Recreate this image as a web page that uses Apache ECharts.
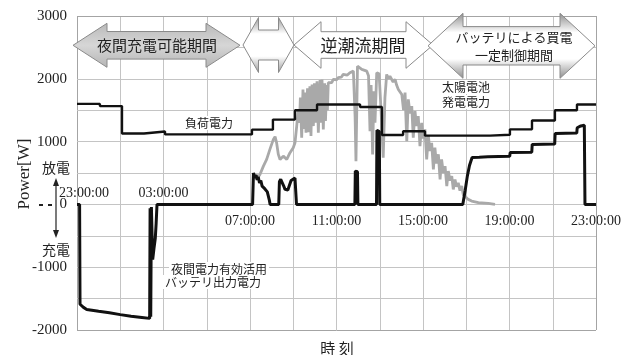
<!DOCTYPE html>
<html>
<head>
<meta charset="utf-8">
<script src="https://cdn.jsdelivr.net/npm/echarts@6/dist/echarts.min.js"></script>
<style>
  html, body { margin: 0; padding: 0; background: #fff; }
  #chart { width: 633px; height: 355px; }
</style>
</head>
<body>
<div id="chart"></div>
<script>
// x values are hours elapsed since 23:00 (the axis runs 23:00 -> 23:00 next day)
const clockLabels = ['23:00:00', '03:00:00', '07:00:00', '11:00:00', '15:00:00', '19:00:00', '23:00:00'];
const powerLabels = [-2000, -1000, 0, 1000, 2000, 3000];

// 負荷電力 : household load, drawn as a step line [hour, W]
const loadPoints = [
  [0, 1600], [1.06, 1565], [2.08, 1130], [3.10, 1160], [4.07, 1115], [8.09, 1190],
  [9.06, 1350], [10.08, 1500], [11.10, 1590], [13.09, 1550], [14.10, 1105], [15.08, 1165],
  [16.09, 1095], [19.10, 1110], [20.02, 1195], [21.04, 1335], [22.10, 1500], [23.12, 1590], [24, 1590]
];

// 太陽電池発電電力 : PV output [hour, W]
const solarPoints = [
  [8.39, 440], [8.46, 477], [8.62, 610], [8.77, 716], [8.92, 876], [9.08, 1035], [9.16, 1078],
  [9.23, 982], [9.31, 796], [9.39, 716], [9.54, 769], [9.70, 716], [9.85, 823], [10.00, 903],
  [10.08, 982], [10.16, 1247], [10.23, 1512], [10.29, 1300], [10.33, 1700], [10.39, 1062],
  [10.45, 1830], [10.50, 1200], [10.54, 1780], [10.59, 1141], [10.66, 1850], [10.70, 1150],
  [10.77, 1880], [10.82, 1090], [10.87, 1910], [10.93, 1247], [10.98, 1930], [11.05, 1300],
  [11.10, 1960], [11.16, 1141], [11.24, 1980], [11.28, 1300], [11.33, 1990], [11.39, 1194],
  [11.45, 1930], [11.49, 1330], [11.55, 1900], [11.58, 1500], [11.62, 1937], [11.70, 1960],
  [11.78, 1940], [11.85, 1990], [11.92, 2000], [12.00, 1985], [12.08, 2017], [12.15, 2040],
  [12.22, 2025], [12.31, 2070], [12.40, 2080], [12.50, 2060], [12.62, 2097], [12.78, 2122],
  [12.86, 1400], [12.90, 689], [12.97, 2200], [13.17, 2149], [13.40, 2122], [13.48, 2050],
  [13.55, 1167], [13.60, 1900], [13.67, 796], [13.73, 1800], [13.78, 1300], [13.86, 2097],
  [13.97, 2080], [14.06, 1500], [14.16, 743], [14.24, 1700], [14.32, 2070], [14.40, 2000],
  [14.47, 2040], [14.55, 2017], [14.62, 1950], [14.71, 1990], [14.78, 1900], [14.86, 1830],
  [14.93, 1800], [15.02, 1751], [15.10, 1500], [15.17, 1780], [15.25, 1008], [15.32, 1672],
  [15.40, 1450], [15.48, 1565], [15.55, 1062], [15.63, 1486], [15.70, 1250], [15.78, 1406],
  [15.86, 928], [15.94, 1300], [16.01, 1050], [16.09, 1194], [16.17, 716], [16.25, 1088],
  [16.32, 850], [16.40, 982], [16.48, 557], [16.55, 903], [16.62, 650], [16.71, 796],
  [16.79, 398], [16.86, 716], [16.94, 500], [17.02, 610], [17.10, 291], [17.17, 530],
  [17.25, 380], [17.33, 451], [17.40, 239], [17.48, 398], [17.55, 280], [17.63, 345],
  [17.71, 220], [17.79, 291], [17.86, 159], [17.94, 186], [18.09, 80], [18.25, 53],
  [18.56, 27], [19.02, 16], [19.33, 0]
];

// 夜間電力有効活用バッテリ出力電力 : battery output, + discharge / - charge [hour, W]
const batteryPoints = [
  [0, 0], [0.12, 0], [0.14, -1590], [0.30, -1640], [0.45, -1672], [1.0, -1700], [1.5, -1725],
  [2.0, -1755], [2.5, -1780], [3.0, -1800], [3.36, -1815], [3.38, -60], [3.41, -1790],
  [3.44, -40], [3.50, -880], [3.56, -700], [3.62, -540], [3.66, -300], [3.70, 0],
  [8.12, 0], [8.16, 500], [8.20, 530], [8.24, 420], [8.28, 470], [8.33, 390], [8.38, 440],
  [8.44, 340], [8.50, 380], [8.56, 290], [8.62, 320], [8.68, 250], [8.74, 270], [8.80, 200],
  [8.86, 210], [8.90, 60], [8.93, 0], [9.33, 0], [9.36, 360], [9.42, 400], [9.47, 390],
  [9.55, 300], [9.62, 240], [9.68, 260], [9.75, 230], [9.82, 300], [9.90, 380], [9.98, 400],
  [10.08, 420], [10.13, 400], [10.15, 0], [12.85, 0], [12.87, 530], [12.97, 520], [12.99, 0],
  [13.85, 0], [13.87, 1180], [13.98, 1160], [14.0, 0], [17.84, 0], [17.95, 220], [18.05, 450],
  [18.15, 620], [18.27, 748], [18.6, 752], [19.0, 758], [19.5, 762], [20.01, 765], [20.03, 825],
  [21.03, 830], [21.05, 955], [22.09, 960], [22.11, 1130], [23.11, 1135], [23.13, 1220],
  [23.30, 1250], [23.38, 1275], [23.46, 1260], [23.49, 0], [24, 0]
];

const xMin = 0, xMax = 24, xStep = 2;
const yMin = -2000, yMax = 3000, yStep = 500;
const serif = '"Liberation Serif", "DejaVu Serif", serif';
const jp = '"Noto Sans CJK JP", sans-serif';
const gridColor = '#c4c4c4';
const frameColor = '#a4a4a4';

// plot box (pixels); the time axis is shifted up onto the 0 W line
const box = { left: 77, right: 37, top: 16, bottom: 25 };
const plotH = 355 - box.top - box.bottom;
const zeroShift = -plotH * (0 - yMin) / (yMax - yMin);

// grid rules and frame, placed in data units through the axes
const rules = [];
for (let h = xMin; h <= xMax; h += xStep) {
  const edge = (h === xMin || h === xMax);
  rules.push({ xAxis: h, lineStyle: { color: edge ? frameColor : gridColor, width: 1, type: 'solid' } });
}
for (let w = yMin; w <= yMax; w += yStep) {
  const edge = (w === yMin || w === yMax);
  rules.push({ yAxis: w, lineStyle: { color: edge ? frameColor : gridColor, width: 1, type: 'solid' } });
}

// double-headed horizontal arrow outline
function dblArrow(x0, x1, cy, headLen, headHalf, bodyHalf) {
  return [
    [x0, cy], [x0 + headLen, cy - headHalf], [x0 + headLen, cy - bodyHalf],
    [x1 - headLen, cy - bodyHalf], [x1 - headLen, cy - headHalf], [x1, cy],
    [x1 - headLen, cy + headHalf], [x1 - headLen, cy + bodyHalf],
    [x0 + headLen, cy + bodyHalf], [x0 + headLen, cy + headHalf]
  ];
}
const vGrad = (stops) => new echarts.graphic.LinearGradient(0, 0, 0, 1, stops);

function jpText(text, x, y, size, boxed) {
  const style = { text: text, fontFamily: jp, fontSize: size, fill: '#222', align: 'center', verticalAlign: 'middle' };
  if (boxed) { style.backgroundColor = '#fff'; style.padding = [1, 2]; }
  return { type: 'text', x: x, y: y, z: 110, style: style };
}

const chart = echarts.init(document.getElementById('chart'), null, { renderer: 'canvas' });

chart.setOption({
  animation: false,
  grid: Object.assign({ show: false }, box),
  xAxis: {
    type: 'value', min: xMin, max: xMax, interval: xStep, position: 'bottom', offset: zeroShift,
    axisLine: { show: false, onZero: false },
    axisTick: { show: false },
    splitLine: { show: false },
    axisLabel: {
      margin: 10, fontFamily: serif, fontSize: 14, color: '#222', hideOverlap: false,
      formatter: (h) => (h >= 8 && h % 4 === 0) ? clockLabels[h / 4] : ''
    }
  },
  yAxis: {
    type: 'value', min: yMin, max: yMax, interval: yStep,
    axisLine: { show: false }, axisTick: { show: false },
    splitLine: { show: false },
    axisLabel: {
      margin: 10, fontFamily: serif, fontSize: 15, color: '#222',
      formatter: (v) => powerLabels.indexOf(v) >= 0 ? String(v) : ''
    }
  },
  series: [
    {
      // carries the grid rules only
      type: 'line', data: [[0, 0]], symbol: 'none', silent: true, z: 1,
      lineStyle: { opacity: 0 },
      markLine: {
        silent: true, z: 2.5, symbol: ['none', 'none'], label: { show: false },
        emphasis: { disabled: true }, animation: false, data: rules
      }
    },
    {
      name: '太陽電池発電電力', type: 'line', data: solarPoints, symbol: 'none', z: 3,
      lineStyle: { color: '#a9a9a9', width: 2.8 }
    },
    {
      name: '負荷電力', type: 'line', step: 'end', data: loadPoints, symbol: 'none', z: 4,
      lineStyle: { color: '#111', width: 2.4 }
    },
    {
      name: 'バッテリ出力電力', type: 'line', data: batteryPoints, symbol: 'none', z: 5,
      lineStyle: { color: '#111', width: 3 }
    }
  ]
});

// time labels that sit above the 0 W line (the charge trace runs below it there)
const p0 = chart.convertToPixel({ gridIndex: 0 }, [0, 0]);
const p4 = chart.convertToPixel({ gridIndex: 0 }, [4, 0]);
const upperLabel = (text, pt, dx) => ({
  type: 'text', x: pt[0] + dx, y: pt[1] - 11, z: 110,
  style: { text: text, fontFamily: serif, fontSize: 14, fill: '#222', align: 'center', verticalAlign: 'middle' }
});

chart.setOption({
  graphic: [
    // period arrows
    { type: 'polygon', z: 100, shape: { points: dblArrow(73, 240, 45.3, 34, 22, 13.8) },
      style: { fill: vGrad([{ offset: 0, color: '#b9b9b9' }, { offset: 0.5, color: '#d6d6d6' }, { offset: 1, color: '#b5b5b5' }]), stroke: '#8a8a8a', lineWidth: 1 } },
    { type: 'polygon', z: 100, shape: { points: dblArrow(243, 294, 45, 15.5, 27.5, 15) },
      style: { fill: vGrad([{ offset: 0, color: '#9a9a9a' }, { offset: 0.3, color: '#ffffff' }, { offset: 0.7, color: '#ffffff' }, { offset: 1, color: '#9a9a9a' }]), stroke: '#8a8a8a', lineWidth: 1 } },
    { type: 'polygon', z: 100, shape: { points: dblArrow(294, 433, 45, 27, 23.3, 13.3) },
      style: { fill: '#ffffff', stroke: '#8a8a8a', lineWidth: 1 } },
    { type: 'polygon', z: 101, shape: { points: dblArrow(428, 595, 45.8, 35, 32.5, 19.2) },
      style: { fill: vGrad([{ offset: 0, color: '#8c8c8c' }, { offset: 0.3, color: '#ffffff' }, { offset: 0.7, color: '#ffffff' }, { offset: 1, color: '#8c8c8c' }]), stroke: '#8a8a8a', lineWidth: 1 } },
    jpText('夜間充電可能期間', 157, 45, 15),
    jpText('逆潮流期間', 363, 46, 17),
    jpText('バッテリによる買電', 514, 37, 13),
    jpText('一定制御期間', 514, 55, 13),

    // series annotations
    jpText('負荷電力', 209, 123, 12, true),
    jpText('太陽電池', 466, 87, 12, true),
    jpText('発電電力', 466, 102, 12, true),
    jpText('夜間電力有効活用', 219, 269, 12, true),
    jpText('バッテリ出力電力', 213, 282, 12, true),

    // time labels above the line
    upperLabel(clockLabels[0], p0, 7),
    upperLabel(clockLabels[1], p4, 0),

    // y axis title
    { type: 'text', x: 25, y: 174, rotation: Math.PI / 2, z: 110,
      style: { text: 'Power[W]', fontFamily: serif, fontSize: 17, fill: '#222', align: 'center', verticalAlign: 'middle' } },

    // charge / discharge marker beside the y axis
    jpText('放電', 56, 168, 14),
    jpText('充電', 56, 250, 14),
    { type: 'line', z: 110, shape: { x1: 56, y1: 182, x2: 56, y2: 233 }, style: { stroke: '#222', lineWidth: 1.2 } },
    { type: 'polygon', z: 110, shape: { points: [[56, 178], [53, 186], [59, 186]] }, style: { fill: '#222' } },
    { type: 'polygon', z: 110, shape: { points: [[56, 238], [53, 230], [59, 230]] }, style: { fill: '#222' } },
    { type: 'line', z: 110, shape: { x1: 39, y1: 205, x2: 53, y2: 205 }, style: { stroke: '#222', lineWidth: 2, lineDash: [4, 5] } },

    // x axis title
    jpText('時 刻', 337, 348, 15)
  ]
});
</script>
</body>
</html>
